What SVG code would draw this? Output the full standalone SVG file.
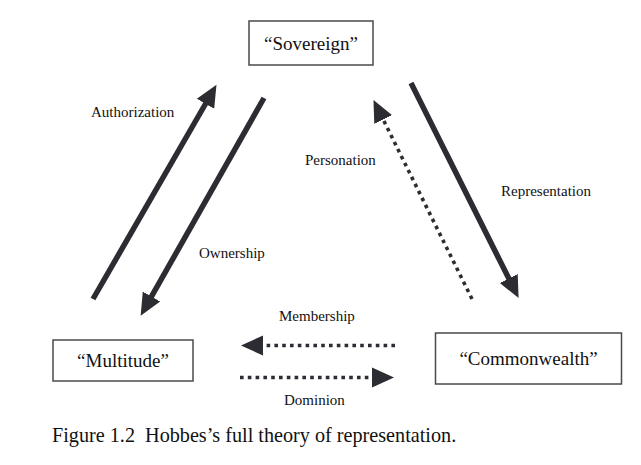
<svg xmlns="http://www.w3.org/2000/svg" width="641" height="465" viewBox="0 0 641 465">
<style>
  .box { fill: #ffffff; stroke: #4a4a4a; stroke-width: 1.5; }
  .node { font-family: "Liberation Serif", "Times New Roman", serif; font-size: 19px; fill: #111; text-anchor: middle; }
  .lbl { font-family: "Liberation Serif", "Times New Roman", serif; font-size: 15px; fill: #111; }
  .cap { font-family: "Liberation Serif", "Times New Roman", serif; font-size: 20.2px; fill: #111; }
  .solid { stroke: #2c2d33; stroke-width: 5.5; fill: none; marker-end: url(#ah); }
  .dot { stroke: #2c2d33; stroke-width: 3.6; stroke-dasharray: 3.6 4.2; fill: none; marker-end: url(#ah); }
</style>
<defs>
  <marker id="ah" markerUnits="userSpaceOnUse" viewBox="0 -11 23 22" refX="1" refY="0" markerWidth="23" markerHeight="22" orient="auto">
    <path d="M0,-10 L22,0 L0,10 Z" fill="#2c2d33"/>
  </marker>
</defs>
<rect width="641" height="465" fill="#ffffff"/>
<g id="sovereign">
  <rect class="box" x="249" y="21" width="124" height="44"/>
  <text class="node" x="311" y="49.5">“Sovereign”</text>
</g>
<g id="multitude">
  <rect class="box" x="53" y="340" width="140" height="41"/>
  <text class="node" x="123" y="367">“Multitude”</text>
</g>
<g id="commonwealth">
  <rect class="box" x="435.5" y="333" width="186" height="51"/>
  <text class="node" x="528.5" y="365">“Commonwealth”</text>
</g>
<g id="connectors">
  <line class="solid" x1="93" y1="299" x2="206" y2="103"/>
  <line class="solid" x1="264" y1="98" x2="151" y2="297.4"/>
  <line class="dot" x1="472" y1="299" x2="382.8" y2="118.7"/>
  <line class="solid" x1="411" y1="83" x2="509.2" y2="279.3"/>
  <line class="dot" x1="395" y1="345.5" x2="262" y2="345.5"/>
  <line class="dot" x1="240" y1="377.5" x2="373" y2="377.5"/>
</g>
<g id="labels">
  <text class="lbl" x="91" y="117">Authorization</text>
  <text class="lbl" x="199" y="258">Ownership</text>
  <text class="lbl" x="305" y="165">Personation</text>
  <text class="lbl" x="501" y="196">Representation</text>
  <text class="lbl" x="279" y="321">Membership</text>
  <text class="lbl" x="284" y="405">Dominion</text>
</g>
<text class="cap" x="52" y="442">Figure 1.2 <tspan dx="5">Hobbes’s full theory of representation.</tspan></text>
</svg>
